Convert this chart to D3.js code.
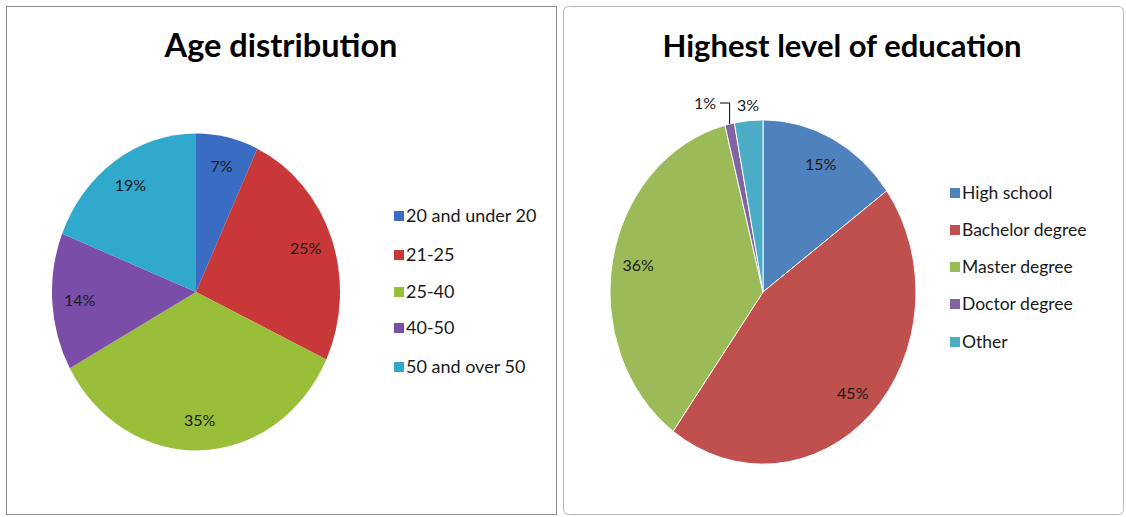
<!DOCTYPE html>
<html><head><meta charset="utf-8">
<script src="https://cdn.jsdelivr.net/npm/d3@7"></script>
<style>body{margin:0;background:#fff;} text{font-family:Lato,"Open Sans",sans-serif;}</style>
</head><body>
<svg id="c" width="1126" height="517"></svg>
<script>
const ageCategories = ["20 and under 20","21-25","25-40","40-50","50 and over 50"];
const ageValues = [7,25,35,14,19];
const ageColors = ["#3B6CC4","#C93838","#99BE3A","#7A4DA8","#31A9CC"];

const eduCategories = ["High school","Bachelor degree","Master degree","Doctor degree","Other"];
const eduValues = [15,45,36,1,3];
const eduColors = ["#4F81BD","#C0504D","#9BBB59","#8064A2","#4BACC6"];

const svg = d3.select("#c");

// panels
svg.append("rect").attr("x",6.5).attr("y",6.5).attr("width",550).attr("height",508)
  .attr("fill","#fff").attr("stroke","#8a8a8a").attr("stroke-width",1);
svg.append("rect").attr("x",563.5).attr("y",6.5).attr("width",560).attr("height",508).attr("rx",5)
  .attr("fill","#fff").attr("stroke","#b8b8b8").attr("stroke-width",1);

function drawPie(cfg){
  const pie = d3.pie().sort(null).value(d=>d)(cfg.values);
  const g = svg.append("g").attr("transform",`translate(${cfg.cx},${cfg.cy}) scale(1,${cfg.sy})`);
  const arc = d3.arc().innerRadius(0).outerRadius(cfg.r);
  g.selectAll("path").data(pie).join("path")
    .attr("d",arc).attr("fill",(d,i)=>cfg.colors[i])
    .attr("stroke",cfg.stroke).attr("stroke-width",cfg.strokeW/ cfg.sy);
  const lab = d3.arc().innerRadius(cfg.r*cfg.lr).outerRadius(cfg.r*cfg.lr);
  pie.forEach((d,i)=>{
    let [x,y] = lab.centroid(d);
    let px = cfg.cx + x, py = cfg.cy + y*cfg.sy;
    if (cfg.outside && cfg.outside[i]) { px = cfg.outside[i][0]; py = cfg.outside[i][1]; }
    svg.append("text").attr("x",px).attr("y",py).attr("dy","0.35em")
      .attr("text-anchor","middle").attr("font-size",16).attr("fill","#1a1a1a")
      .text(cfg.values[i]+"%");
  });
  svg.append("text").attr("x",cfg.tx).attr("y",cfg.ty).attr("text-anchor","middle")
    .attr("font-size",cfg.tfs).attr("font-weight","bold").attr("fill","#000").text(cfg.title);
  const lg = svg.append("g");
  cfg.cats.forEach((c,i)=>{
    const y = cfg.ly[i];
    lg.append("rect").attr("x",cfg.lx).attr("y",y-5).attr("width",10).attr("height",10).attr("fill",cfg.colors[i]);
    lg.append("text").attr("x",cfg.lx+12).attr("y",y).attr("dy","0.35em").attr("font-size",cfg.lfs).attr("fill","#1a1a1a").text(c);
  });
  return {pie,arc};
}

drawPie({values:ageValues,colors:ageColors,cats:ageCategories,cx:196,cy:292,r:144,sy:1.1,lr:0.81,
  stroke:"none",strokeW:0,title:"Age distribution",tx:281,ty:57,tfs:32.5,lfs:18,lx:394,ly:[216,255,292,328,367]});

const eduPie = drawPie({values:eduValues,colors:eduColors,cats:eduCategories,cx:763,cy:292,r:153,sy:1.125,lr:0.83,
  stroke:"#fff",strokeW:1,title:"Highest level of education",tx:842,ty:57,tfs:31,lfs:17.5,lx:950,ly:[193,230,267,304,342],
  outside:{3:[705,103],4:[748,105]}});

// leader line for 1% slice
const dp = eduPie.pie[3];
const mid = (dp.startAngle+dp.endAngle)/2;
const ex = 763 + 153*Math.sin(mid), ey = 292 - 153*1.125*Math.cos(mid);
svg.append("path").attr("d",`M${720},${103}H${ex}V${ey}`).attr("fill","none").attr("stroke","#000").attr("stroke-width",1);
</script>
</body></html>
